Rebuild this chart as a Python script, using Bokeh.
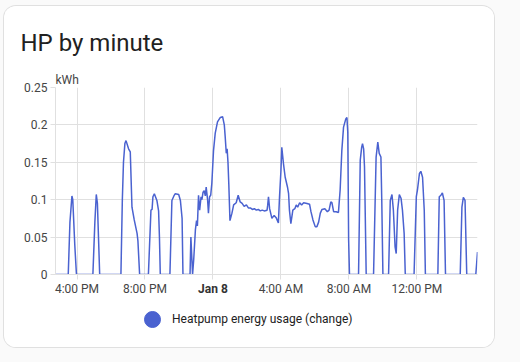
import pandas as pd
from bokeh.plotting import figure
from bokeh.layouts import column
from bokeh.models import (ColumnDataSource, FixedTicker, Range1d, Title,
                          Legend, LegendItem, DatetimeAxis)
from bokeh.embed import file_html
from bokeh.resources import INLINE

# ---------------- data ----------------
title_text = "HP by minute"
series_name = "Heatpump energy usage (change)"
unit_label = "kWh"

times = [
    "2024-01-07 14:44", "2024-01-07 15:29", "2024-01-07 15:35", "2024-01-07 15:42", "2024-01-07 15:45",
    "2024-01-07 15:52", "2024-01-07 15:58", "2024-01-07 16:56", "2024-01-07 17:03", "2024-01-07 17:08",
    "2024-01-07 17:12", "2024-01-07 17:20", "2024-01-07 18:35", "2024-01-07 18:40", "2024-01-07 18:44",
    "2024-01-07 18:49", "2024-01-07 18:53", "2024-01-07 19:02", "2024-01-07 19:08", "2024-01-07 19:14",
    "2024-01-07 19:22", "2024-01-07 19:32", "2024-01-07 19:35", "2024-01-07 19:41", "2024-01-07 20:12",
    "2024-01-07 20:21", "2024-01-07 20:25", "2024-01-07 20:28", "2024-01-07 20:33", "2024-01-07 20:42",
    "2024-01-07 20:48", "2024-01-07 20:51", "2024-01-07 20:54", "2024-01-07 21:28", "2024-01-07 21:35",
    "2024-01-07 21:42", "2024-01-07 21:47", "2024-01-07 21:59", "2024-01-07 22:05", "2024-01-07 22:11",
    "2024-01-07 22:14", "2024-01-07 22:39", "2024-01-07 22:42", "2024-01-07 22:48", "2024-01-07 22:52",
    "2024-01-07 22:58", "2024-01-07 23:02", "2024-01-07 23:05", "2024-01-07 23:09", "2024-01-07 23:13",
    "2024-01-07 23:18", "2024-01-07 23:21", "2024-01-07 23:25", "2024-01-07 23:29", "2024-01-07 23:33",
    "2024-01-07 23:36", "2024-01-07 23:41", "2024-01-07 23:44", "2024-01-07 23:48", "2024-01-07 23:52",
    "2024-01-07 23:56", "2024-01-08 00:02", "2024-01-08 00:08", "2024-01-08 00:16", "2024-01-08 00:26",
    "2024-01-08 00:34", "2024-01-08 00:40", "2024-01-08 00:43", "2024-01-08 00:47", "2024-01-08 00:50",
    "2024-01-08 00:53", "2024-01-08 00:56", "2024-01-08 01:00", "2024-01-08 01:07", "2024-01-08 01:13",
    "2024-01-08 01:22", "2024-01-08 01:29", "2024-01-08 01:36", "2024-01-08 01:43", "2024-01-08 01:50",
    "2024-01-08 01:58", "2024-01-08 02:05", "2024-01-08 02:12", "2024-01-08 02:19", "2024-01-08 02:26",
    "2024-01-08 02:33", "2024-01-08 02:40", "2024-01-08 02:47", "2024-01-08 02:54", "2024-01-08 03:01",
    "2024-01-08 03:11", "2024-01-08 03:13", "2024-01-08 03:16", "2024-01-08 03:20", "2024-01-08 03:28",
    "2024-01-08 03:36", "2024-01-08 03:43", "2024-01-08 03:51", "2024-01-08 03:55", "2024-01-08 04:00",
    "2024-01-08 04:03", "2024-01-08 04:09", "2024-01-08 04:15", "2024-01-08 04:23", "2024-01-08 04:27",
    "2024-01-08 04:30", "2024-01-08 04:35", "2024-01-08 04:42", "2024-01-08 04:49", "2024-01-08 04:54",
    "2024-01-08 04:59", "2024-01-08 05:06", "2024-01-08 05:13", "2024-01-08 05:20", "2024-01-08 05:32",
    "2024-01-08 05:41", "2024-01-08 05:46", "2024-01-08 05:53", "2024-01-08 06:01", "2024-01-08 06:07",
    "2024-01-08 06:13", "2024-01-08 06:19", "2024-01-08 06:25", "2024-01-08 06:35", "2024-01-08 06:44",
    "2024-01-08 06:50", "2024-01-08 06:56", "2024-01-08 07:00", "2024-01-08 07:06", "2024-01-08 07:15",
    "2024-01-08 07:23", "2024-01-08 07:29", "2024-01-08 07:35", "2024-01-08 07:41", "2024-01-08 07:49",
    "2024-01-08 07:53", "2024-01-08 07:56", "2024-01-08 07:59", "2024-01-08 08:02", "2024-01-08 08:34",
    "2024-01-08 08:40", "2024-01-08 08:45", "2024-01-08 08:48", "2024-01-08 08:52", "2024-01-08 08:55",
    "2024-01-08 09:01", "2024-01-08 09:27", "2024-01-08 09:36", "2024-01-08 09:42", "2024-01-08 09:47",
    "2024-01-08 09:53", "2024-01-08 09:56", "2024-01-08 10:00", "2024-01-08 10:20", "2024-01-08 10:26",
    "2024-01-08 10:32", "2024-01-08 10:37", "2024-01-08 10:43", "2024-01-08 10:47", "2024-01-08 10:52",
    "2024-01-08 10:58", "2024-01-08 11:04", "2024-01-08 11:09", "2024-01-08 11:15", "2024-01-08 11:19",
    "2024-01-08 11:50", "2024-01-08 11:58", "2024-01-08 12:02", "2024-01-08 12:09", "2024-01-08 12:14",
    "2024-01-08 12:20", "2024-01-08 12:26", "2024-01-08 12:30", "2024-01-08 13:14", "2024-01-08 13:19",
    "2024-01-08 13:25", "2024-01-08 13:30", "2024-01-08 13:36", "2024-01-08 13:41", "2024-01-08 14:33",
    "2024-01-08 14:39", "2024-01-08 14:44", "2024-01-08 14:50", "2024-01-08 14:56", "2024-01-08 15:28",
    "2024-01-08 15:34",
]

kwh = [
    0, 0, 0.07, 0.105, 0.10,
    0.04, 0, 0, 0.07, 0.107,
    0.095, 0, 0, 0.1, 0.15,
    0.175, 0.179, 0.168, 0.164, 0.09,
    0.073, 0.055, 0.045, 0, 0,
    0.086, 0.087, 0.104, 0.108, 0.099,
    0.085, 0.05, 0, 0, 0.099,
    0.105, 0.108, 0.107, 0.099, 0.075,
    0, 0, 0.05, 0, 0.02,
    0.06, 0.072, 0.065, 0.106, 0.086,
    0.104, 0.1, 0.11, 0.112, 0.105,
    0.117, 0.1, 0.082, 0.104, 0.106,
    0.122, 0.166, 0.189, 0.204, 0.21,
    0.211, 0.2, 0.185, 0.162, 0.168,
    0.15, 0.12, 0.072, 0.082, 0.093,
    0.096, 0.106, 0.097, 0.095, 0.091,
    0.093, 0.089, 0.089, 0.087, 0.088,
    0.086, 0.087, 0.085, 0.086, 0.085,
    0.086, 0.092, 0.104, 0.088, 0.075,
    0.079, 0.076, 0.069, 0.104, 0.139,
    0.17, 0.148, 0.13, 0.117, 0.108,
    0.086, 0.068, 0.086, 0.088, 0.093,
    0.09, 0.096, 0.093, 0.096, 0.095,
    0.094, 0.084, 0.073, 0.064, 0.064,
    0.07, 0.082, 0.087, 0.088, 0.084,
    0.086, 0.097, 0.096, 0.084, 0.084,
    0.083, 0.113, 0.166, 0.197, 0.208,
    0.21, 0.19, 0.046, 0, 0,
    0.153, 0.17, 0.175, 0.168, 0.144,
    0, 0, 0.157, 0.177, 0.162,
    0.157, 0.099, 0, 0, 0.099,
    0.107, 0.086, 0.037, 0.028, 0.086,
    0.107, 0.102, 0.086, 0.055, 0,
    0, 0.104, 0.113, 0.135, 0.138,
    0.13, 0.086, 0, 0, 0.104,
    0.106, 0.109, 0.099, 0, 0,
    0.09, 0.103, 0.099, 0, 0,
    0.03,
]

y_ticks = [0, 0.05, 0.1, 0.15, 0.2, 0.25]
y_tick_labels = ["0", "0.05", "0.1", "0.15", "0.2", "0.25"]
x_ticks = ["2024-01-07 16:00", "2024-01-07 20:00", "2024-01-08 00:00",
           "2024-01-08 04:00", "2024-01-08 08:00", "2024-01-08 12:00"]
x_tick_labels = ["4:00 PM", "8:00 PM", "Jan 8", "4:00 AM", "8:00 AM", "12:00 PM"]
bold_tick = "Jan 8"

# ---------------- styles ----------------
LINE = "#4a62d0"
GRID = "#e0e0e0"
TICK_TXT = "#454545"
FONT = "Roboto"


def ms(s):
    return pd.Timestamp(s).value / 1e6


t = pd.to_datetime(times)
src = ColumnDataSource(dict(t=t, v=kwh))

# ---------------- main chart ----------------
p = figure(width=490, height=294, x_axis_type="datetime",
           output_backend="svg", toolbar_location=None,
           x_range=Range1d(t[0], t[-1]), y_range=Range1d(0, 0.25))
p.min_border_left = 51
p.min_border_right = 17
p.min_border_top = 81
p.min_border_bottom = 26
p.border_fill_color = "white"
p.background_fill_color = "white"
p.outline_line_color = None

# titles (kWh closest to the frame, main title above it)
p.add_layout(Title(text=unit_label, align="left", offset=0, standoff=2,
                   text_font=FONT, text_font_size="12px",
                   text_font_style="normal", text_color=TICK_TXT), "above")
p.title.text = title_text
p.title.align = "left"
p.title.offset = -35
p.title.standoff = 25
p.title.text_font = FONT
p.title.text_font_size = "24px"
p.title.text_font_style = "normal"
p.title.text_color = "#212121"

xt = [ms(s) for s in x_ticks]
p.xaxis.ticker = FixedTicker(ticks=xt)
p.xaxis.major_label_overrides = {k: ("" if lab == bold_tick else lab)
                                 for k, lab in zip(xt, x_tick_labels)}
p.yaxis.ticker = FixedTicker(ticks=y_ticks)
p.yaxis.major_label_overrides = dict(zip(y_ticks, y_tick_labels))

for ax in (p.xaxis, p.yaxis):
    ax.axis_line_color = GRID
    ax.major_tick_line_color = GRID
    ax.major_tick_out = 5
    ax.major_tick_in = 0
    ax.minor_tick_line_color = None
    ax.major_label_text_font = FONT
    ax.major_label_text_font_size = "12px"
    ax.major_label_text_color = TICK_TXT
p.xaxis.major_label_standoff = 2
p.yaxis.major_label_standoff = 3
p.grid.grid_line_color = GRID
p.grid.grid_line_width = 1

# second (label-only) axis that carries the bold day label
jt = [k for k, lab in zip(xt, x_tick_labels) if lab == bold_tick]
day_axis = DatetimeAxis(ticker=FixedTicker(ticks=jt),
                        major_label_overrides={jt[0]: bold_tick},
                        axis_line_color=None, major_tick_line_color=None,
                        minor_tick_line_color=None,
                        major_tick_out=0, major_tick_in=0,
                        major_label_standoff=-17,
                        major_label_text_font=FONT,
                        major_label_text_font_size="12px",
                        major_label_text_font_style="bold",
                        major_label_text_color="#333333")
p.add_layout(day_axis, "below")

p.line("t", "v", source=src, line_color=LINE, line_width=1.5)

# ---------------- legend strip ----------------
leg = figure(width=490, height=47, output_backend="svg", toolbar_location=None,
             x_axis_location=None, y_axis_location=None,
             x_range=Range1d(0, 1), y_range=Range1d(0, 1))
leg.min_border = 0
leg.min_border_left = 0
leg.min_border_right = 0
leg.min_border_top = 0
leg.min_border_bottom = 0
leg.grid.visible = False
leg.outline_line_color = None
leg.border_fill_color = "white"
leg.background_fill_color = "white"
dot = leg.scatter(x=[0.5], y=[float("nan")], size=16, fill_color=LINE, line_color=LINE)

legend = Legend(items=[LegendItem(label=series_name, renderers=[dot])],
                location=(77, 8), orientation="horizontal",
                padding=0, margin=0, glyph_width=40, glyph_height=40,
                label_standoff=0, border_line_color=None,
                background_fill_alpha=0,
                label_text_font=FONT, label_text_font_size="12px",
                label_text_color="#212121")
leg.add_layout(legend)

card = column(p, leg, margin=(6, 0, 0, 4),
              styles={"border-radius": "12px", "overflow": "hidden",
                      "box-shadow": "0 0 0 1px #e0e0e0",
                      "background-color": "white"})
root = column(card, width=520, height=362, styles={"background-color": "#fafafa"})

open("out.html", "w").write(file_html(root, INLINE))
